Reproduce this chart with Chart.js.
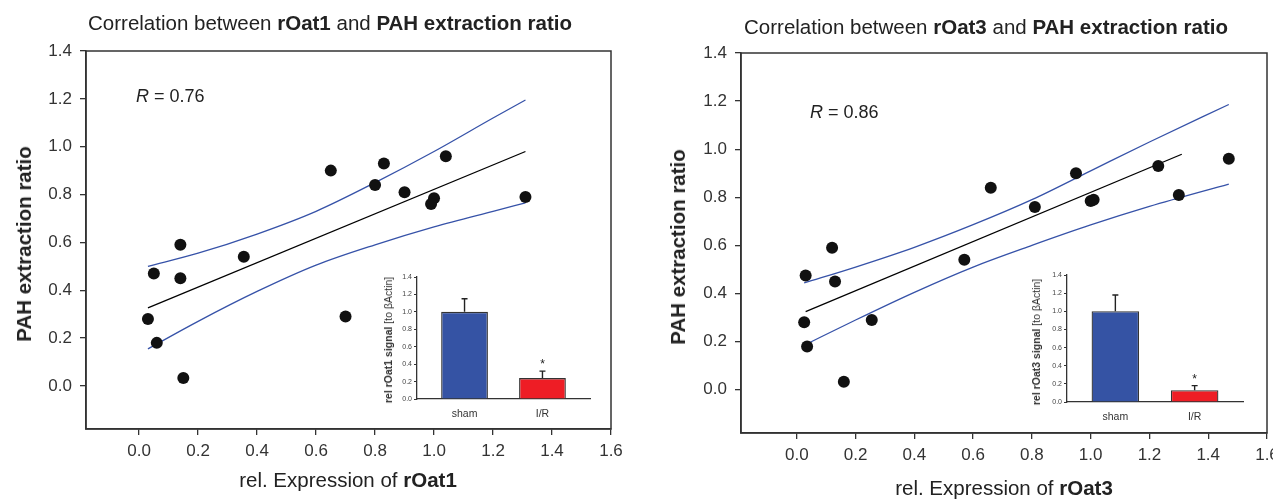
<!DOCTYPE html>
<html lang="en">
<head>
<meta charset="UTF-8">
<title>rOat1 / rOat3 and PAH extraction ratio</title>
<script src="https://cdn.jsdelivr.net/npm/chart.js"></script>
<style>
  html, body { margin: 0; padding: 0; overflow: hidden; }
  body { width: 1273px; height: 499px; position: relative; background: #fff;
         font-family: "Liberation Sans", Arial, sans-serif; color: #222; }
  canvas { position: absolute; top: 0; }
  .txt { position: absolute; white-space: nowrap; transform: translate(-50%, -50%); }
  .rot { transform: translate(-50%, -50%) rotate(-90deg); }
  .title { font-size: 20.5px; }
  .axt { font-size: 20.5px; }
  .r { font-size: 18px; transform: translate(0, -50%); }
  .small { font-size: 10.5px; color: #333; }
</style>
</head>
<body>

<canvas id="c1" width="640" height="499" style="left:0"></canvas>
<canvas id="c2" width="660" height="499" style="left:640px"></canvas>
<canvas id="i1" width="240" height="175" style="left:360px;top:255px"></canvas>
<canvas id="i2" width="250" height="180" style="left:1010px;top:255px"></canvas>

<div class="txt title" style="left:330px;top:23px">Correlation between <b>rOat1</b> and <b>PAH extraction ratio</b></div>
<div class="txt title" style="left:986px;top:27px">Correlation between <b>rOat3</b> and <b>PAH extraction ratio</b></div>
<div class="txt axt" style="left:348px;top:480px">rel. Expression of <b>rOat1</b></div>
<div class="txt axt" style="left:1004px;top:488px">rel. Expression of <b>rOat3</b></div>
<div class="txt axt rot" style="left:24px;top:244px"><b>PAH extraction ratio</b></div>
<div class="txt axt rot" style="left:678px;top:247px"><b>PAH extraction ratio</b></div>
<div class="txt r" style="left:136px;top:96px"><i>R</i> = 0.76</div>
<div class="txt r" style="left:810px;top:112px"><i>R</i> = 0.86</div>
<div class="txt small rot" style="left:388px;top:340px"><b>rel rOat1 signal</b> [to βActin]</div>
<div class="txt small rot" style="left:1036px;top:342px"><b>rel rOat3 signal</b> [to βActin]</div>

<script>
// ticks
const xTicks = [0, 0.2, 0.4, 0.6, 0.8, 1.0, 1.2, 1.4, 1.6];
const yTicks = [0, 0.2, 0.4, 0.6, 0.8, 1.0, 1.2, 1.4];
const insetTicks = [0, 0.2, 0.4, 0.6, 0.8, 1.0, 1.2, 1.4];

// rOat1 panel
const oat1X   = [0.65, 0.83, 0.80, 0.90, 1.04, 1.00, 0.99, 1.31, 0.14, 0.355, 0.05, 0.14, 0.03, 0.06, 0.15, 0.70];
const oat1PAH = [0.90, 0.93, 0.84, 0.81, 0.96, 0.785, 0.76, 0.79, 0.59, 0.54, 0.47, 0.45, 0.28, 0.18, 0.033, 0.29];
const oat1FitX = [0.03, 1.31];
const oat1FitY = [0.326, 0.98];
const oat1BandX = [0.03, 0.2, 0.4, 0.6, 0.8, 1.0, 1.2, 1.31];
const oat1Upper = [0.50, 0.555, 0.635, 0.73, 0.85, 0.98, 1.12, 1.195];
const oat1Lower = [0.155, 0.27, 0.395, 0.505, 0.59, 0.665, 0.73, 0.765];

// rOat3 panel
const oat3X   = [0.66, 0.81, 0.95, 1.00, 1.01, 1.23, 1.47, 1.30, 0.12, 0.57, 0.03, 0.13, 0.025, 0.035, 0.255, 0.16];
const oat3PAH = [0.84, 0.76, 0.90, 0.785, 0.79, 0.93, 0.96, 0.81, 0.59, 0.54, 0.475, 0.45, 0.28, 0.18, 0.29, 0.033];
const oat3FitX = [0.03, 1.31];
const oat3FitY = [0.325, 0.979];
const oat3BandX = [0.025, 0.2, 0.4, 0.6, 0.8, 1.0, 1.2, 1.47];
const oat3Upper = [0.444, 0.51, 0.592, 0.686, 0.79, 0.91, 1.03, 1.186];
const oat3Lower = [0.185, 0.29, 0.405, 0.51, 0.60, 0.685, 0.762, 0.855];

// insets (western blot signal)
const groups = ['sham', 'I/R'];
const oat1Signal = [1.0, 0.24];
const oat1Err = [0.15, 0.08];
const oat3Signal = [1.0, 0.13];
const oat3Err = [0.18, 0.05];

Chart.defaults.font.family = '"Liberation Sans", Arial, sans-serif';
Chart.defaults.color = '#222';

const Y_W = 50, X_H = 40;
const IN_Y_W = 20, IN_X_H = 24;

const frame = {
  id: 'frame',
  afterDraw(chart) {
    const { ctx, chartArea: a } = chart;
    ctx.save();
    ctx.strokeStyle = '#333';
    ctx.lineWidth = 1.5;
    ctx.strokeRect(a.left, a.top, a.right - a.left, a.bottom - a.top);
    ctx.restore();
  }
};

function toXY(xs, ys) {
  return xs.map((v, i) => ({ x: v, y: ys[i] }));
}

function mainChart(id, xs, ys, fitX, fitY, bandX, up, lo, box) {
  const cv = document.getElementById(id);
  return new Chart(cv, {
    type: 'scatter',
    data: {
      datasets: [
        { data: toXY(xs, ys), pointRadius: 6, pointHoverRadius: 6,
          backgroundColor: '#111', borderWidth: 0 },
        { data: toXY(fitX, fitY), showLine: true, pointRadius: 0,
          borderColor: '#000', borderWidth: 1.3 },
        { data: toXY(bandX, up), showLine: true, pointRadius: 0,
          borderColor: '#3652a8', borderWidth: 1.3, cubicInterpolationMode: 'monotone' },
        { data: toXY(bandX, lo), showLine: true, pointRadius: 0,
          borderColor: '#3652a8', borderWidth: 1.3, cubicInterpolationMode: 'monotone' }
      ]
    },
    options: {
      responsive: false,
      animation: false,
      events: [],
      layout: { padding: { left: box.l - Y_W, right: cv.width - box.r, top: box.t, bottom: cv.height - box.b - X_H } },
      plugins: { legend: { display: false }, tooltip: { enabled: false } },
      scales: {
        x: {
          type: 'linear', min: box.xMin, max: 1.6,
          afterFit: s => { s.height = X_H; },
          afterBuildTicks: s => { s.ticks = xTicks.map(v => ({ value: v })); },
          ticks: { font: { size: 17 }, color: '#333', padding: 6, maxRotation: 0, autoSkip: false,
                   callback: v => v.toFixed(1) },
          grid: { drawOnChartArea: false, tickLength: 6, color: '#333', lineWidth: 1.3 },
          border: { color: '#333', width: 1.5 }
        },
        y: {
          type: 'linear', min: -0.18, max: 1.4,
          afterFit: s => { s.width = Y_W; },
          afterBuildTicks: s => { s.ticks = yTicks.map(v => ({ value: v })); },
          ticks: { font: { size: 17 }, color: '#333', padding: 8, autoSkip: false,
                   callback: v => v.toFixed(1) },
          grid: { drawOnChartArea: false, tickLength: 6, color: '#333', lineWidth: 1.3 },
          border: { color: '#333', width: 1.5 }
        }
      }
    },
    plugins: [frame]
  });
}

function errorBars(vals, errs) {
  return {
    id: 'errbars',
    afterDatasetsDraw(chart) {
      const { ctx } = chart;
      const ys = chart.scales.y;
      const meta = chart.getDatasetMeta(0);
      ctx.save();
      ctx.strokeStyle = '#222';
      ctx.lineWidth = 1.4;
      meta.data.forEach((bar, i) => {
        const y0 = ys.getPixelForValue(vals[i]);
        const y1 = ys.getPixelForValue(vals[i] + errs[i]);
        ctx.beginPath();
        ctx.moveTo(bar.x, y0);
        ctx.lineTo(bar.x, y1);
        ctx.moveTo(bar.x - 3, y1);
        ctx.lineTo(bar.x + 3, y1);
        ctx.stroke();
      });
      // significance mark over I/R
      const last = meta.data[1];
      ctx.fillStyle = '#222';
      ctx.font = '12px "Liberation Sans", Arial, sans-serif';
      ctx.textAlign = 'center';
      ctx.textBaseline = 'alphabetic';
      ctx.fillText('*', last.x, ys.getPixelForValue(vals[1] + errs[1]) - 3);
      ctx.restore();
    }
  };
}

function insetChart(id, vals, errs, box) {
  const cv = document.getElementById(id);
  return new Chart(cv, {
    type: 'bar',
    data: {
      datasets: [{
        data: groups.map((g, i) => ({ x: i, y: vals[i] })),
        backgroundColor: ['#3553a4', '#ee1d25'],
        borderColor: '#333', borderWidth: 1.3,
        barPercentage: 0.6, categoryPercentage: 1
      }]
    },
    options: {
      responsive: false,
      animation: false,
      events: [],
      layout: { padding: { left: box.l - IN_Y_W, right: cv.width - box.r, top: box.t, bottom: cv.height - box.b - IN_X_H } },
      plugins: { legend: { display: false }, tooltip: { enabled: false } },
      scales: {
        x: {
          type: 'linear', min: -0.61, max: 1.61, offset: false,
          afterFit: s => { s.height = IN_X_H; },
          afterBuildTicks: s => { s.ticks = groups.map((g, i) => ({ value: i })); },
          ticks: { font: { size: 10.5 }, color: '#333', padding: 1, maxRotation: 0, autoSkip: false,
                   callback: v => groups[v] },
          grid: { display: false },
          border: { display: true, color: '#333', width: 1.3 }
        },
        y: {
          min: 0, max: 1.4,
          afterFit: s => { s.width = IN_Y_W; },
          afterBuildTicks: s => { s.ticks = insetTicks.map(v => ({ value: v })); },
          ticks: { font: { size: 7 }, color: '#444', padding: 2, autoSkip: false,
                   callback: v => v.toFixed(1) },
          grid: { drawOnChartArea: false, tickLength: 3, color: '#333' },
          border: { color: '#333', width: 1.3 }
        }
      }
    },
    plugins: [errorBars(vals, errs)]
  });
}

mainChart('c1', oat1X, oat1PAH, oat1FitX, oat1FitY, oat1BandX, oat1Upper, oat1Lower,
          { l: 86, r: 611, t: 51, b: 429, xMin: -0.18 });
mainChart('c2', oat3X, oat3PAH, oat3FitX, oat3FitY, oat3BandX, oat3Upper, oat3Lower,
          { l: 101, r: 627, t: 53, b: 433, xMin: -0.19 });
insetChart('i1', oat1Signal, oat1Err, { l: 57, r: 230, t: 22, b: 144 });
insetChart('i2', oat3Signal, oat3Err, { l: 57, r: 233, t: 20, b: 147 });
</script>
</body>
</html>
